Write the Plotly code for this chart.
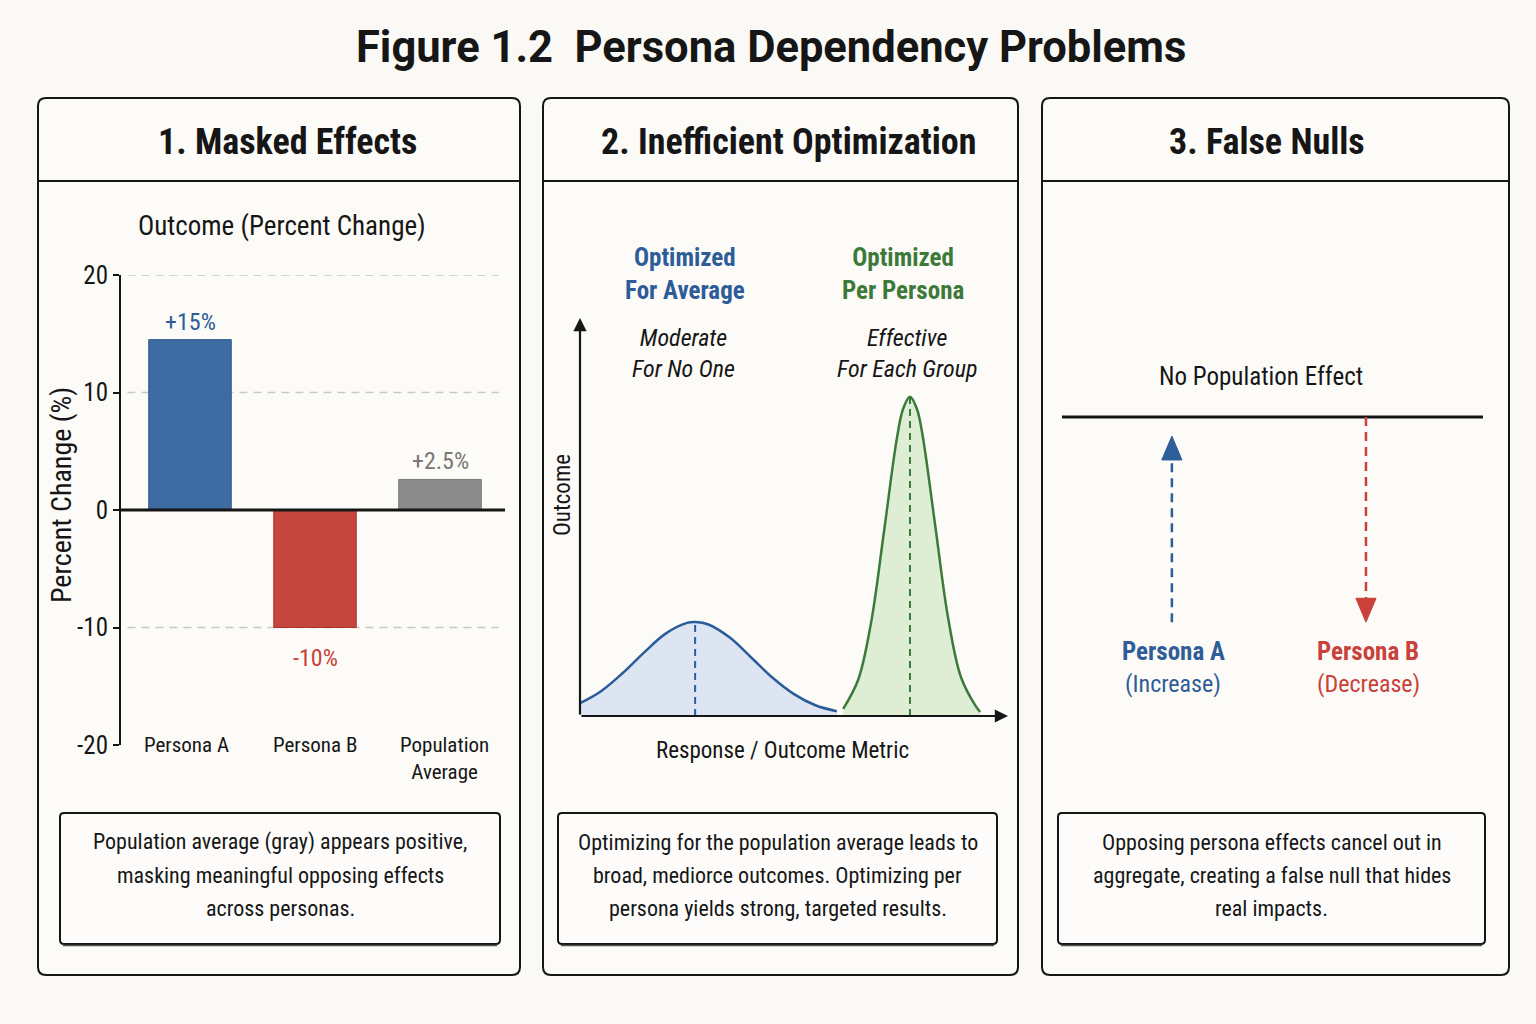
import plotly.graph_objects as go

W, H = 1536, 1024

# ---------------- data ----------------
categories = ["Persona A", "Persona B", "Population<br>Average"]
cat_pos = [0, 1, 2]
pct_values = [14.5, -10.0, 2.6]
value_labels = ["+15%", "-10%", "+2.5%"]
bar_colors = ["#3D6BA2", "#C4463E", "#8C8C8C"]
bar_line_colors = ["#2F5889", "#A8362F", "#767676"]
label_colors = ["#2F5D97", "#C9413A", "#777777"]
y_ticks = [20, 10, 0, -10, -20]
y_tick_text = ["20", "10", "0", "-10", "-20"]
grid_vals = [20, 10, -10]

# panel 2 curves (arbitrary units 0-100)
avg_x = [0, 5, 10, 15, 20, 25, 27, 30, 35, 40, 45, 50, 55, 60]
avg_y = [3.2, 6.3, 10.8, 16.0, 20.7, 23.4, 23.6, 23.0, 19.7, 14.7, 9.6, 5.5, 2.7, 1.2]
persona_x = [61.5, 65, 68, 71, 74, 75.5, 77.1, 78.7, 80, 83, 86, 89, 92.5, 93.5]
persona_y = [1.8, 9.1, 23.4, 46.1, 69.5, 77.2, 80.2, 77.2, 70.8, 47.8, 24.7, 9.8, 2.4, 1.0]
avg_peak = (26.9, 23.6)
persona_peak = (77.1, 80.2)

# panel 3 (arbitrary units 0-100)
null_level = 98
arrow_a_x = 26.1
arrow_a_from = 31.0
arrow_a_tip = 91.8
arrow_b_x = 72.2
arrow_b_from = 98.0
arrow_b_tip = 31.0
head_len = 7.8
head_half_w = 2.4

captions = [
    ["Population average (gray) appears positive,", "masking meaningful opposing effects", "across personas."],
    ["Optimizing for the population average leads to", "broad, mediorce outcomes. Optimizing per", "persona yields strong, targeted results."],
    ["Opposing persona effects cancel out in", "aggregate, creating a false null that hides", "real impacts."],
]

# ---------------- styling helpers ----------------
NARROW = "Liberation Sans Narrow, Arial Narrow, Roboto Condensed, Roboto, sans-serif"
BOLD = "Roboto, Inter, Liberation Sans, sans-serif"
BG = "#FAF9F5"
INK = "#161616"
BLUE = "#2F5D97"
RED = "#C9413A"


def X(p):
    return p / W


def Y(p):
    return 1 - p / H


def rrect(x0, y0, x1, y1, r):
    def P(x, y):
        return f"{X(x):.5f},{Y(y):.5f}"
    return (f"M {P(x0 + r, y0)} L {P(x1 - r, y0)} Q {P(x1, y0)} {P(x1, y0 + r)} "
            f"L {P(x1, y1 - r)} Q {P(x1, y1)} {P(x1 - r, y1)} "
            f"L {P(x0 + r, y1)} Q {P(x0, y1)} {P(x0, y1 - r)} "
            f"L {P(x0, y0 + r)} Q {P(x0, y0)} {P(x0 + r, y0)} Z")


annotations = []


def ann(text, x, y, size, color=INK, family=NARROW, weight=400, style="normal",
        xanchor="center", yanchor="middle", angle=0):
    annotations.append(dict(
        text=text, x=X(x), y=Y(y), xref="paper", yref="paper", showarrow=False,
        xanchor=xanchor, yanchor=yanchor, textangle=angle,
        font=dict(family=family, size=size, color=color, weight=weight, style=style)))


fig = go.Figure()

# ---------------- panel frames ----------------
shapes = []
panels = [(38, 98, 520, 975), (543, 98, 1018, 975), (1042, 98, 1509, 975)]
boxes = [(60, 813, 500, 944), (558, 813, 997, 944), (1058, 813, 1485, 944)]
for (x0, y0, x1, y1) in panels:
    shapes.append(dict(type="path", path=rrect(x0, y0, x1, y1, 8), xref="paper", yref="paper",
                       line=dict(color=INK, width=2), fillcolor="#FCFBF8", layer="below"))
    shapes.append(dict(type="line", x0=X(x0), x1=X(x1), y0=Y(181), y1=Y(181), xref="paper", yref="paper",
                       line=dict(color=INK, width=2), layer="below"))
for (x0, y0, x1, y1) in boxes:
    shapes.append(dict(type="path", path=rrect(x0, y0, x1, y1, 4), xref="paper", yref="paper",
                       line=dict(color=INK, width=2), fillcolor="#FDFCFA", layer="below"))
    shapes.append(dict(type="line", x0=X(x0 + 3), x1=X(x1 - 3), y0=Y(y1 + 1.5), y1=Y(y1 + 1.5),
                       xref="paper", yref="paper", line=dict(color="#555555", width=1.5), layer="below"))

# ---------------- panel 1: bar chart ----------------
fig.add_trace(go.Bar(
    x=cat_pos, y=pct_values, width=0.66, marker=dict(color=bar_colors, line=dict(color=bar_line_colors, width=1)),
    xaxis="x", yaxis="y", showlegend=False, hoverinfo="skip"))

for g in grid_vals:
    shapes.append(dict(type="line", xref="x", yref="y", x0=-0.5, x1=2.47, y0=g, y1=g,
                       line=dict(color="#C8C8C8", width=1.5, dash="8px,6px"), layer="below"))
shapes.append(dict(type="line", xref="x", yref="y", x0=-0.552, x1=2.52, y0=0, y1=0,
                   line=dict(color=INK, width=3)))

for i, (p, v, t, c) in enumerate(zip(cat_pos, pct_values, value_labels, label_colors)):
    annotations.append(dict(
        text=t, x=p, y=v, xref="x", yref="y", showarrow=False,
        yanchor="bottom" if v > 0 else "top", yshift=2 if v > 0 else -14,
        font=dict(family=NARROW, size=24, color=c)))
for p, name in zip(cat_pos, categories):
    annotations.append(dict(
        text=name, x=p, y=-20, xref="x", yref="y", showarrow=False, yanchor="top", yshift=14,
        xshift=-4 if p == 0 else (4 if p == 2 else 0),
        font=dict(family=NARROW, size=21, color=INK)))

# ---------------- panel 2: curves ----------------
fig.add_trace(go.Scatter(x=avg_x, y=avg_y, mode="lines", xaxis="x2", yaxis="y2",
                         line=dict(color="#2B5C9A", width=2.5, shape="spline"),
                         fill="tozeroy", fillcolor="#DCE5F1", showlegend=False, hoverinfo="skip"))
fig.add_trace(go.Scatter(x=persona_x, y=persona_y, mode="lines", xaxis="x2", yaxis="y2",
                         line=dict(color="#3D7A3A", width=2.5, shape="spline"),
                         fill="tozeroy", fillcolor="#DDEED5", showlegend=False, hoverinfo="skip"))
fig.add_trace(go.Scatter(x=[avg_peak[0]] * 2, y=[0, avg_peak[1]], mode="lines", xaxis="x2", yaxis="y2",
                         line=dict(color="#2B5C9A", width=2, dash="7px,5px"), showlegend=False, hoverinfo="skip"))
fig.add_trace(go.Scatter(x=[persona_peak[0]] * 2, y=[0, persona_peak[1]], mode="lines", xaxis="x2", yaxis="y2",
                         line=dict(color="#3D7A3A", width=2, dash="7px,5px"), showlegend=False, hoverinfo="skip"))
annotations.append(dict(x=0, y=100, ax=0, ay=0, xref="x2", yref="y2", axref="x2", ayref="y2", text="",
                        showarrow=True, arrowhead=2, arrowsize=1.2, arrowwidth=2.2, arrowcolor=INK))
annotations.append(dict(x=100, y=0, ax=0, ay=0, xref="x2", yref="y2", axref="x2", ayref="y2", text="",
                        showarrow=True, arrowhead=2, arrowsize=1.2, arrowwidth=2.2, arrowcolor=INK))

# ---------------- panel 3: arrows ----------------
fig.add_trace(go.Scatter(x=[0, 100], y=[null_level, null_level], mode="lines", xaxis="x3", yaxis="y3",
                         line=dict(color=INK, width=3), showlegend=False, hoverinfo="skip"))
fig.add_trace(go.Scatter(x=[arrow_a_x] * 2, y=[arrow_a_from, arrow_a_tip - head_len], mode="lines",
                         xaxis="x3", yaxis="y3", line=dict(color=BLUE, width=2.5, dash="9px,6px"),
                         showlegend=False, hoverinfo="skip"))
fig.add_trace(go.Scatter(x=[arrow_b_x] * 2, y=[arrow_b_from, arrow_b_tip + head_len], mode="lines",
                         xaxis="x3", yaxis="y3", line=dict(color=RED, width=2.5, dash="9px,6px"),
                         showlegend=False, hoverinfo="skip"))
for ax_, tip, d, col in [(arrow_a_x, arrow_a_tip, -1, BLUE), (arrow_b_x, arrow_b_tip, 1, RED)]:
    base = tip + d * head_len
    shapes.append(dict(type="path", xref="x3", yref="y3",
                       path=f"M {ax_ - head_half_w},{base} L {ax_ + head_half_w},{base} L {ax_},{tip} Z",
                       fillcolor=col, line=dict(color=col, width=1)))

# ---------------- text ----------------
ann("Figure 1.2  Persona Dependency Problems", 771, 47, 43.5, family=BOLD, weight=700)
ann("1. Masked Effects", 287, 142, 36, family=NARROW, weight=700)
ann("2. Inefficient Optimization", 788, 142, 36, family=NARROW, weight=700)
ann("3. False Nulls", 1267, 142, 36, family=NARROW, weight=700)

ann("Outcome (Percent Change)", 282, 226, 27)
ann("Percent Change (%)", 61, 495, 28, angle=-90)

ann("Optimized<br>For Average", 685, 274, 25, color="#2E5C99", weight=700)
ann("Optimized<br>Per Persona", 903, 274, 25, color="#3D7A3A", weight=700)
ann("Moderate<br>For No One", 683, 353, 24, style="italic")
ann("Effective<br>For Each Group", 907, 353, 24, style="italic")
ann("Outcome", 562, 495, 23, angle=-90)
ann("Response / Outcome Metric", 782, 750, 23)

ann("No Population Effect", 1261, 376, 25)
ann("Persona A", 1173, 651, 25, color=BLUE, weight=700)
ann("(Increase)", 1173, 684, 24, color=BLUE)
ann("Persona B", 1368, 651, 25, color=RED, weight=700)
ann("(Decrease)", 1368, 684, 24, color=RED)

line_y = [842, 875, 908]
for (x0, y0, x1, y1), lines in zip(boxes, captions):
    cx = (x0 + x1) / 2
    for ly, t in zip(line_y, lines):
        ann(t, cx, ly, 22)

# ---------------- layout ----------------
hidden = dict(visible=False, showgrid=False, zeroline=False, fixedrange=True, automargin=False)
fig.update_layout(
    width=W, height=H, margin=dict(l=0, r=0, t=0, b=0, pad=0, autoexpand=False),
    paper_bgcolor=BG, plot_bgcolor="rgba(0,0,0,0)",
    showlegend=False, shapes=shapes, annotations=annotations,
    xaxis=dict(domain=[X(121), X(505)], range=[-0.552, 2.52], **hidden),
    yaxis=dict(domain=[Y(745), Y(275)], range=[-20, 20], tickvals=y_ticks, ticktext=y_tick_text,
               showline=True, linecolor=INK, linewidth=2, ticks="outside", ticklen=6, tickwidth=1.5,
               tickcolor=INK, showgrid=False, zeroline=False, fixedrange=True, automargin=False,
               tickfont=dict(family=NARROW, size=25, color=INK)),
    xaxis2=dict(domain=[X(580), X(1008)], range=[0, 100], anchor="y2", **hidden),
    yaxis2=dict(domain=[Y(716), Y(318)], range=[0, 100], anchor="x2", **hidden),
    xaxis3=dict(domain=[X(1062), X(1483)], range=[0, 100], anchor="y3", **hidden),
    yaxis3=dict(domain=[Y(717), Y(411)], range=[0, 100], anchor="x3", **hidden),
)

fig.write_html("out.html")
